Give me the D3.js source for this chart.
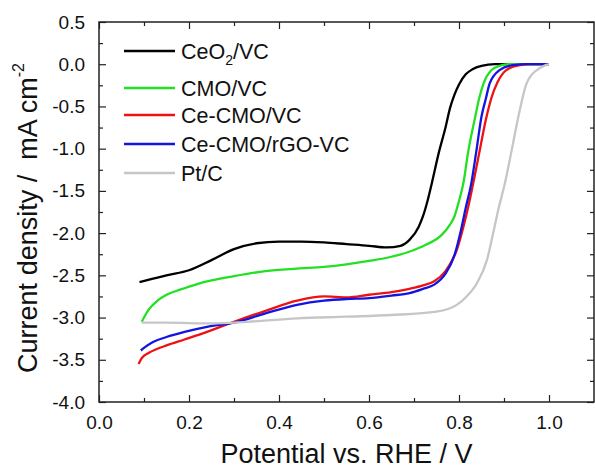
<!DOCTYPE html>
<html>
<head>
<meta charset="utf-8">
<script src="https://cdn.jsdelivr.net/npm/d3@7"></script>
<style>
body{margin:0;background:#fff}
svg{display:block;font-family:"Liberation Sans",Arial,sans-serif}
</style>
</head>
<body>
<svg width="595" height="469"></svg>
<script>
// potential (V vs RHE) / current density (mA cm-2)
const ceo2X=[0.09,0.12,0.15,0.2,0.25,0.3,0.35,0.4,0.45,0.5,0.55,0.6,0.64,0.67,0.69,0.71,0.72,0.73,0.74,0.755,0.77,0.78,0.79,0.8,0.815,0.83,0.85,0.88,1.0]
const ceo2Y=[-2.58,-2.54,-2.5,-2.44,-2.32,-2.19,-2.12,-2.1,-2.1,-2.11,-2.13,-2.15,-2.17,-2.15,-2.08,-1.93,-1.8,-1.62,-1.4,-1.05,-0.75,-0.52,-0.36,-0.24,-0.12,-0.06,-0.02,0,0]
const cmoX=[0.095,0.1,0.11,0.13,0.15,0.18,0.22,0.3,0.37,0.44,0.5,0.55,0.6,0.65,0.7,0.73,0.76,0.78,0.79,0.8,0.81,0.82,0.835,0.845,0.855,0.87,0.89,0.91,1.0]
const cmoY=[-3.05,-3.0,-2.91,-2.8,-2.73,-2.67,-2.6,-2.51,-2.45,-2.42,-2.4,-2.37,-2.33,-2.28,-2.2,-2.13,-2.03,-1.9,-1.8,-1.62,-1.4,-1.05,-0.65,-0.4,-0.22,-0.08,-0.02,0,0]
const ceCmoX=[0.088,0.095,0.11,0.13,0.15,0.19,0.24,0.3,0.37,0.44,0.5,0.55,0.6,0.65,0.69,0.72,0.745,0.77,0.785,0.795,0.81,0.82,0.83,0.845,0.86,0.872,0.885,0.905,0.935,0.96,1.0]
const ceCmoY=[-3.55,-3.48,-3.42,-3.37,-3.33,-3.26,-3.17,-3.05,-2.92,-2.8,-2.75,-2.76,-2.73,-2.7,-2.66,-2.62,-2.57,-2.45,-2.32,-2.2,-1.92,-1.7,-1.45,-1.05,-0.65,-0.4,-0.22,-0.07,-0.01,0,0]
const rgoX=[0.093,0.1,0.12,0.15,0.19,0.24,0.3,0.37,0.44,0.5,0.55,0.6,0.65,0.69,0.72,0.745,0.77,0.79,0.805,0.815,0.827,0.838,0.85,0.86,0.868,0.89,0.92,0.95,1.0]
const rgoY=[-3.39,-3.36,-3.29,-3.23,-3.17,-3.11,-3.06,-2.95,-2.85,-2.8,-2.78,-2.77,-2.74,-2.71,-2.66,-2.61,-2.48,-2.26,-1.95,-1.7,-1.42,-1.05,-0.62,-0.4,-0.23,-0.07,-0.01,0,0]
const ptX=[0.095,0.15,0.25,0.33,0.44,0.55,0.65,0.75,0.795,0.817,0.84,0.862,0.876,0.887,0.902,0.917,0.932,0.95,0.962,0.973,0.985,1.0]
const ptY=[-3.06,-3.06,-3.07,-3.05,-3.01,-2.99,-2.97,-2.93,-2.85,-2.75,-2.59,-2.32,-2.0,-1.73,-1.41,-1.02,-0.62,-0.23,-0.12,-0.07,-0.03,0]

const names=["CeO2/VC","CMO/VC","Ce-CMO/VC","Ce-CMO/rGO-VC","Pt/C"]
const colors=["#000000","#22e022","#ee1111","#1414e0","#c6c6c6"]
const xTicks=[0,0.2,0.4,0.6,0.8,1.0]
const yTicks=[0.5,0,-0.5,-1,-1.5,-2,-2.5,-3,-3.5,-4]

const series=[[ceo2X,ceo2Y],[cmoX,cmoY],[ceCmoX,ceCmoY],[rgoX,rgoY],[ptX,ptY]]

const svg=d3.select("svg")
const L=99,R=594,T=22,B=402
const x=d3.scaleLinear().domain([0,1.1]).range([L,R])
const y=d3.scaleLinear().domain([-4,0.5]).range([B,T])

const minorX=d3.range(0.1,1.1,0.2)
const minorY=d3.range(-3.75,0.5,0.5)

// axes, ticks pointing in on all four sides
let ax=(g,axis)=>{
g.call(axis)
g.select(".domain").remove()
g.selectAll("line").attr("stroke","#222").attr("stroke-width",1.2)
g.selectAll("text").attr("fill","#111").attr("font-size",19)
}
ax(svg.append("g").attr("transform",`translate(0,${B})`),d3.axisBottom(x).tickValues(xTicks).tickSize(-7).tickPadding(14).tickFormat(d3.format(".1f")))
ax(svg.append("g").attr("transform",`translate(0,${B})`),d3.axisBottom(x).tickValues(minorX).tickSize(-4).tickFormat(""))
ax(svg.append("g").attr("transform",`translate(0,${T})`),d3.axisTop(x).tickValues(xTicks).tickSize(-7).tickFormat(""))
ax(svg.append("g").attr("transform",`translate(0,${T})`),d3.axisTop(x).tickValues(minorX).tickSize(-4).tickFormat(""))
ax(svg.append("g").attr("transform",`translate(${L},0)`),d3.axisLeft(y).tickValues(yTicks).tickSize(-7).tickPadding(14).tickFormat(d3.format(".1f")))
ax(svg.append("g").attr("transform",`translate(${L},0)`),d3.axisLeft(y).tickValues(minorY).tickSize(-4).tickFormat(""))
ax(svg.append("g").attr("transform",`translate(${R},0)`),d3.axisRight(y).tickValues(yTicks).tickSize(-7).tickFormat(""))
ax(svg.append("g").attr("transform",`translate(${R},0)`),d3.axisRight(y).tickValues(minorY).tickSize(-4).tickFormat(""))

svg.selectAll(".tick text").filter(function(){return this.textContent.startsWith("−")}).text(function(){return this.textContent.replace("−","-")})

svg.append("rect").attr("x",L).attr("y",T).attr("width",R-L).attr("height",B-T)
.attr("fill","none").attr("stroke","#222").attr("stroke-width",1.5)

const line=d3.line().x(d=>x(d[0])).y(d=>y(d[1])).curve(d3.curveMonotoneX)
series.forEach((s,i)=>{
let pts=s[0].map((v,j)=>[v,s[1][j]])
svg.append("path").datum(pts).attr("d",line).attr("fill","none")
.attr("stroke",colors[i]).attr("stroke-width",2.3).attr("stroke-linejoin","round")
})

// legend
const legY=[51,88,115,144,173]
names.forEach((n,i)=>{
svg.append("line").attr("x1",124).attr("x2",175).attr("y1",legY[i]).attr("y2",legY[i])
.attr("stroke",colors[i]).attr("stroke-width",2.6)
let t=svg.append("text").attr("x",181).attr("y",legY[i]+8).attr("font-size",21.5).attr("fill","#111")
if(n=="CeO2/VC"){
t.append("tspan").text("CeO")
t.append("tspan").text("2").attr("font-size",14).attr("dy",6)
t.append("tspan").text("/VC").attr("dy",-6)
}else{
t.text(n)
}
})

// axis titles
svg.append("text").attr("x",(L+R)/2).attr("y",463).attr("text-anchor","middle")
.attr("font-size",27).attr("fill","#111").text("Potential vs. RHE / V")
let yt=svg.append("text").attr("transform",`translate(37,${(T+B)/2+6}) rotate(-90)`)
.attr("text-anchor","middle").attr("font-size",27).attr("fill","#111")
yt.append("tspan").text("Current density /\u00a0 mA cm")
yt.append("tspan").text("-2").attr("font-size",16).attr("dy",-13)
</script>
</body>
</html>
